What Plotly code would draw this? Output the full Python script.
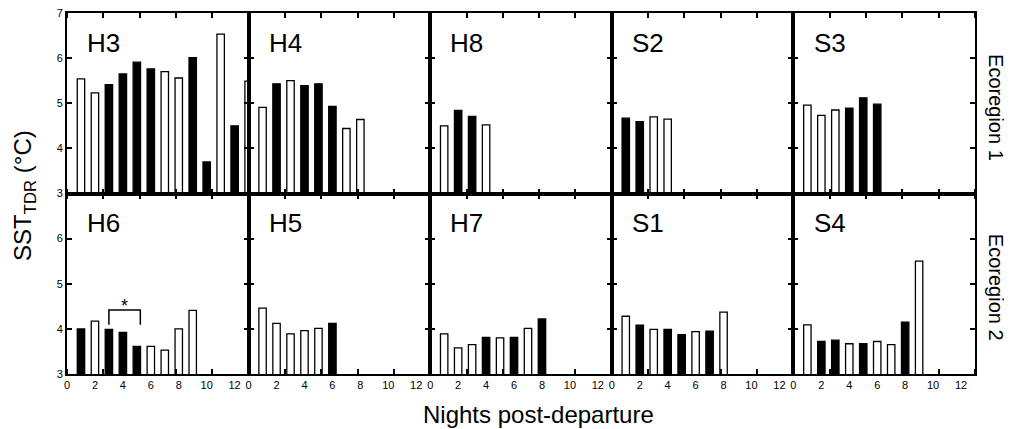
import plotly.graph_objects as go
import numpy as np

# ---- data ----
panels = ["H3", "H4", "H8", "S2", "S3", "H6", "H5", "H7", "S1", "S4"]

H3 = [5.54, 5.23, 5.41, 5.65, 5.91, 5.76, 5.70, 5.56, 6.01, 3.70, 6.53, 4.50, 5.49]
H3_fill = [0, 0, 1, 1, 1, 1, 0, 0, 1, 1, 0, 1, 0]
H4 = [4.91, 5.43, 5.50, 5.39, 5.43, 4.93, 4.44, 4.64]
H4_fill = [0, 1, 0, 1, 1, 1, 0, 0]
H8 = [4.50, 4.84, 4.71, 4.52]
H8_fill = [0, 1, 1, 0]
S2 = [4.67, 4.59, 4.70, 4.65]
S2_fill = [1, 1, 0, 0]
S3 = [4.96, 4.73, 4.85, 4.89, 5.12, 4.98]
S3_fill = [0, 0, 0, 1, 1, 1]
H6 = [4.00, 4.17, 3.99, 3.92, 3.61, 3.61, 3.53, 4.00, 4.41]
H6_fill = [1, 0, 1, 1, 1, 0, 0, 0, 0]
H5 = [4.46, 4.12, 3.89, 3.96, 4.01, 4.12]
H5_fill = [0, 0, 0, 0, 0, 1]
H7 = [3.89, 3.58, 3.65, 3.81, 3.80, 3.81, 4.01, 4.22]
H7_fill = [0, 0, 0, 1, 0, 1, 0, 1]
S1 = [4.28, 4.08, 3.99, 3.99, 3.87, 3.94, 3.95, 4.37]
S1_fill = [0, 1, 0, 1, 1, 0, 1, 0]
S4 = [4.09, 3.72, 3.75, 3.67, 3.67, 3.72, 3.65, 4.15, 5.50]
S4_fill = [0, 1, 1, 0, 1, 0, 0, 1, 0]

values = {"H3": H3, "H4": H4, "H8": H8, "S2": S2, "S3": S3,
          "H6": H6, "H5": H5, "H7": H7, "S1": S1, "S4": S4}
fills = {"H3": H3_fill, "H4": H4_fill, "H8": H8_fill, "S2": S2_fill, "S3": S3_fill,
         "H6": H6_fill, "H5": H5_fill, "H7": H7_fill, "S1": S1_fill, "S4": S4_fill}

x_labels = [0, 2, 4, 6, 8, 10, 12]
y_ticks_top = [3, 4, 5, 6, 7]
y_ticks_bottom = [3, 4, 5, 6]
row_labels = ["Ecoregion 1", "Ecoregion 2"]
sig_pair = (3, 5)  # H6 nights compared (*)

FONT = "Liberation Sans, Arial, Helvetica, sans-serif"
X_RANGE = [0, 13]
mark_ticks = list(np.linspace(X_RANGE[0], X_RANGE[1], 6))

fig = go.Figure()
layout = {}
annotations = []
shapes = []

for i, name in enumerate(panels):
    r, c = divmod(i, 5)
    k = i + 1
    xa = "x" if k == 1 else f"x{k}"
    ya = "y" if k == 1 else f"y{k}"
    vals = values[name]
    fl = fills[name]
    nights = list(range(1, len(vals) + 1))
    fig.add_trace(go.Bar(
        x=nights, y=vals, xaxis=xa, yaxis=ya, width=0.53,
        marker=dict(color=["black" if f else "white" for f in fl],
                    line=dict(color="black", width=1.3)),
        showlegend=False, hoverinfo="x+y"))
    xkey = "xaxis" if k == 1 else f"xaxis{k}"
    ykey = "yaxis" if k == 1 else f"yaxis{k}"
    layout[xkey] = dict(
        domain=[c / 5, (c + 1) / 5], anchor=ya, range=X_RANGE,
        tickmode="array", tickvals=x_labels, ticktext=[str(v) for v in x_labels],
        showticklabels=(r == 1), ticks="",
        showline=True, linecolor="black", linewidth=2, mirror="ticks",
        showgrid=False, zeroline=False,
        minor=dict(tickmode="array", tickvals=mark_ticks, ticks="inside",
                   ticklen=5, tickwidth=1.6, tickcolor="black", showgrid=False),
        tickfont=dict(size=11, color="black", family=FONT), fixedrange=True)
    yt = y_ticks_top if r == 0 else y_ticks_bottom
    layout[ykey] = dict(
        domain=[0.5, 1.0] if r == 0 else [0.0, 0.5], anchor=xa, range=[3, 7],
        tickmode="array", tickvals=yt, ticktext=[str(v) for v in yt],
        showticklabels=(c == 0), ticks="inside", ticklen=5, tickwidth=1.6,
        tickcolor="black", showline=True, linecolor="black", linewidth=2,
        mirror="ticks", showgrid=False, zeroline=False, ticklabeloverflow="allow",
        tickfont=dict(size=11, color="black", family=FONT), fixedrange=True)
    annotations.append(dict(
        text=name, xref=f"{xa} domain", yref=f"{ya} domain", x=0.10, y=0.834,
        xanchor="left", yanchor="middle", showarrow=False,
        font=dict(size=26, color="black", family=FONT)))
    if name == "H6":
        a, b = sig_pair
        top = max(vals[a - 1:b]) + 0.43
        low = vals[a - 1] + 0.1
        shapes.append(dict(
            type="path", xref=xa, yref=ya,
            path=f"M {a},{low} L {a},{top} L {b + 0.25},{top} L {b + 0.25},{low}",
            line=dict(color="black", width=1.5)))
        annotations.append(dict(
            text="*", xref=xa, yref=ya, x=(a + b + 0.25) / 2, y=top - 0.17,
            xanchor="center", yanchor="bottom", showarrow=False,
            font=dict(size=18, color="black", family=FONT)))

# axis / row titles
annotations.append(dict(
    text="SST<sub>TDR</sub> (°C)", xref="paper", yref="paper", x=-0.047, y=0.494,
    textangle=-90, xanchor="center", yanchor="middle", showarrow=False,
    font=dict(size=24, color="black", family=FONT)))
annotations.append(dict(
    text="Nights post-departure", xref="paper", yref="paper", x=0.519, y=-0.113,
    xanchor="center", yanchor="middle", showarrow=False,
    font=dict(size=24, color="black", family=FONT)))
for j, lab in enumerate(row_labels):
    annotations.append(dict(
        text=lab, xref="paper", yref="paper", x=1.023, y=[0.737, 0.239][j],
        textangle=90, xanchor="center", yanchor="middle", showarrow=False,
        font=dict(size=20, color="black", family=FONT)))

# page body has an 8px margin, so the figure is sized to fit the window
fig.update_layout(
    **layout,
    annotations=annotations, shapes=shapes,
    width=1004, height=421,
    margin=dict(l=59, r=37, t=5, b=55, autoexpand=False),
    paper_bgcolor="white", plot_bgcolor="white",
    font=dict(family=FONT, color="black"),
    bargap=0.4, showlegend=False)

fig.write_html("out.html")
